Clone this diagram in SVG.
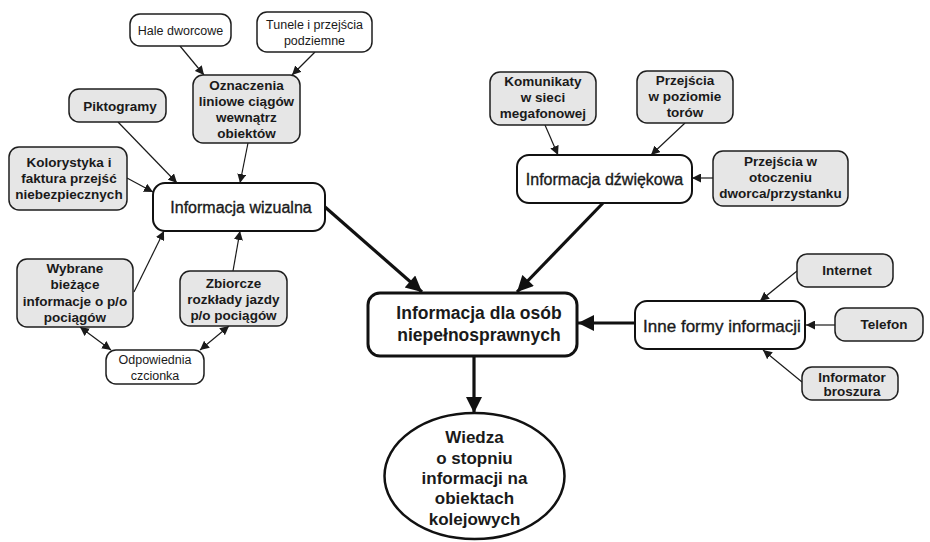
<svg xmlns="http://www.w3.org/2000/svg" width="930" height="542" viewBox="0 0 930 542">
  <defs>
    <marker id="thin" viewBox="0 0 10 10" refX="10" refY="5" markerWidth="9" markerHeight="9" markerUnits="userSpaceOnUse" orient="auto">
      <path d="M0,0 L10,5 L0,10 z" fill="#1a1a1a"/>
    </marker>
    <marker id="thinStart" viewBox="0 0 10 10" refX="0" refY="5" markerWidth="9" markerHeight="9" markerUnits="userSpaceOnUse" orient="auto">
      <path d="M10,0 L0,5 L10,10 z" fill="#1a1a1a"/>
    </marker>
    <marker id="thick" viewBox="0 0 10 10" refX="10" refY="5" markerWidth="18" markerHeight="16" markerUnits="userSpaceOnUse" orient="auto">
      <path d="M0,0 L10,5 L0,10 z" fill="#111"/>
    </marker>
    <style>
      text { font-family: "Liberation Sans", Arial, sans-serif; fill: #1a1a1a; text-anchor: middle; }
      .grey { fill: #e6e6e6; stroke: #1e1e1e; stroke-width: 1.5; }
      .white { fill: #fff; stroke: #1e1e1e; stroke-width: 1.5; }
      .main { fill: #fff; stroke: #111; stroke-width: 2; }
      .core { fill: #fff; stroke: #111; stroke-width: 3; }
      .gt { font-size: 13.5px; font-weight: bold; }
      .st { font-size: 12.5px; }
      .mt { font-size: 16px; stroke: #1a1a1a; stroke-width: 0.35; }
      .ct { font-size: 17.5px; font-weight: bold; }
      .et { font-size: 17px; font-weight: bold; }
      .ln { stroke: #1a1a1a; stroke-width: 1.2; fill: none; marker-end: url(#thin); }
      .both { marker-start: url(#thinStart); }
      .hv { stroke: #111; stroke-width: 3.2; fill: none; marker-end: url(#thick); }
    </style>
  </defs>

  <rect width="930" height="542" fill="#fff"/>

  <!-- connectors -->
  <g id="connectors">
    <line class="ln" x1="180" y1="46" x2="204" y2="75"/>
    <line class="ln" x1="315" y1="52" x2="292" y2="75"/>
    <line class="ln" x1="118" y1="122" x2="177" y2="183"/>
    <line class="ln" x1="127" y1="178" x2="153" y2="192"/>
    <line class="ln" x1="248" y1="143" x2="240" y2="183"/>
    <line class="ln" x1="134" y1="292" x2="164" y2="231"/>
    <line class="ln" x1="233" y1="271" x2="240" y2="231"/>
    <line class="ln both" x1="80" y1="327" x2="111" y2="350"/>
    <line class="ln both" x1="229" y1="326" x2="200" y2="350"/>
    <line class="ln" x1="545" y1="125" x2="558" y2="155"/>
    <line class="ln" x1="685" y1="123" x2="651" y2="155"/>
    <line class="ln" x1="713" y1="178" x2="692" y2="178"/>
    <line class="ln" x1="797" y1="271" x2="760" y2="301"/>
    <line class="ln" x1="835" y1="325" x2="806" y2="325"/>
    <line class="ln" x1="802" y1="382" x2="763" y2="350"/>
    <line class="hv" x1="325" y1="207" x2="422" y2="292"/>
    <line class="hv" x1="603" y1="203" x2="517" y2="292"/>
    <line class="hv" x1="635" y1="323" x2="578" y2="323"/>
    <line class="hv" x1="474" y1="356" x2="474" y2="413"/>
  </g>

  <g id="hale">
    <rect class="white" x="130" y="14" width="101" height="32" rx="10"/>
    <text class="st" x="180.5" y="35">Hale dworcowe</text>
  </g>
  <g id="tunele">
    <rect class="white" x="257" y="12" width="115" height="40" rx="10"/>
    <text class="st" x="314.5" y="29">Tunele i przejścia</text>
    <text class="st" x="314.5" y="45">podziemne</text>
  </g>
  <g id="oznaczenia">
    <rect class="grey" x="193" y="75" width="107" height="68" rx="10"/>
    <text class="gt" x="246.5" y="90">Oznaczenia</text>
    <text class="gt" x="246.5" y="106">liniowe ciągów</text>
    <text class="gt" x="246.5" y="122">wewnątrz</text>
    <text class="gt" x="246.5" y="138">obiektów</text>
  </g>
  <g id="piktogramy">
    <rect class="grey" x="69" y="89" width="97" height="33" rx="10"/>
    <text class="gt" x="120" y="111">Piktogramy</text>
  </g>
  <g id="kolorystyka">
    <rect class="grey" x="9" y="147" width="118" height="63" rx="10"/>
    <text class="gt" x="69" y="167">Kolorystyka i</text>
    <text class="gt" x="69" y="183">faktura przejść</text>
    <text class="gt" x="69" y="199">niebezpiecznych</text>
  </g>
  <g id="wizualna">
    <rect class="main" x="153" y="183" width="172" height="48" rx="12"/>
    <text class="mt" x="241" y="213">Informacja wizualna</text>
  </g>
  <g id="wybrane">
    <rect class="grey" x="17" y="259" width="116" height="68" rx="10"/>
    <text class="gt" x="75" y="273">Wybrane</text>
    <text class="gt" x="75" y="289">bieżące</text>
    <text class="gt" x="75" y="306">informacje o p/o</text>
    <text class="gt" x="75" y="322">pociągów</text>
  </g>
  <g id="zbiorcze">
    <rect class="grey" x="180" y="271" width="107" height="55" rx="10"/>
    <text class="gt" x="233.5" y="288">Zbiorcze</text>
    <text class="gt" x="233.5" y="304">rozkłady jazdy</text>
    <text class="gt" x="233.5" y="320">p/o pociągów</text>
  </g>
  <g id="czcionka">
    <rect class="white" x="106" y="350" width="98" height="34" rx="10"/>
    <text class="st" x="155" y="364">Odpowiednia</text>
    <text class="st" x="155" y="380">czcionka</text>
  </g>
  <g id="komunikaty">
    <rect class="grey" x="490" y="72" width="106" height="53" rx="10"/>
    <text class="gt" x="543" y="86">Komunikaty</text>
    <text class="gt" x="543" y="102">w sieci</text>
    <text class="gt" x="543" y="118">megafonowej</text>
  </g>
  <g id="poziom">
    <rect class="grey" x="637" y="71" width="96" height="52" rx="10"/>
    <text class="gt" x="685" y="85">Przejścia</text>
    <text class="gt" x="685" y="101">w poziomie</text>
    <text class="gt" x="685" y="117">torów</text>
  </g>
  <g id="dzwiekowa">
    <rect class="main" x="517" y="155" width="175" height="48" rx="12"/>
    <text class="mt" x="604.5" y="185">Informacja dźwiękowa</text>
  </g>
  <g id="otoczenie">
    <rect class="grey" x="713" y="151" width="135" height="55" rx="10"/>
    <text class="gt" x="780.5" y="166">Przejścia w</text>
    <text class="gt" x="780.5" y="182">otoczeniu</text>
    <text class="gt" x="780.5" y="198">dworca/przystanku</text>
  </g>
  <g id="centrum">
    <rect class="core" x="368" y="293" width="209" height="63" rx="12"/>
    <text class="ct" x="479" y="319">Informacja dla osób</text>
    <text class="ct" x="479" y="341">niepełnosprawnych</text>
  </g>
  <g id="inne">
    <rect class="main" x="635" y="301" width="170" height="48" rx="12"/>
    <text class="mt" x="722" y="332" style="font-size:17px">Inne formy informacji</text>
  </g>
  <g id="internet">
    <rect class="grey" x="797" y="254" width="96" height="33" rx="10"/>
    <text class="gt" x="847" y="275">Internet</text>
  </g>
  <g id="telefon">
    <rect class="grey" x="835" y="308" width="88" height="33" rx="10"/>
    <text class="gt" x="884" y="329">Telefon</text>
  </g>
  <g id="informator">
    <rect class="grey" x="802" y="367" width="96" height="33" rx="10"/>
    <text class="gt" x="852" y="382">Informator</text>
    <text class="gt" x="852" y="396">broszura</text>
  </g>
  <g id="wiedza">
    <ellipse cx="474.5" cy="476" rx="90" ry="63" fill="#fff" stroke="#111" stroke-width="2.5"/>
    <text class="et" x="474.5" y="443">Wiedza</text>
    <text class="et" x="474.5" y="464">o stopniu</text>
    <text class="et" x="474.5" y="484">informacji na</text>
    <text class="et" x="474.5" y="504">obiektach</text>
    <text class="et" x="474.5" y="525">kolejowych</text>
  </g>
</svg>
